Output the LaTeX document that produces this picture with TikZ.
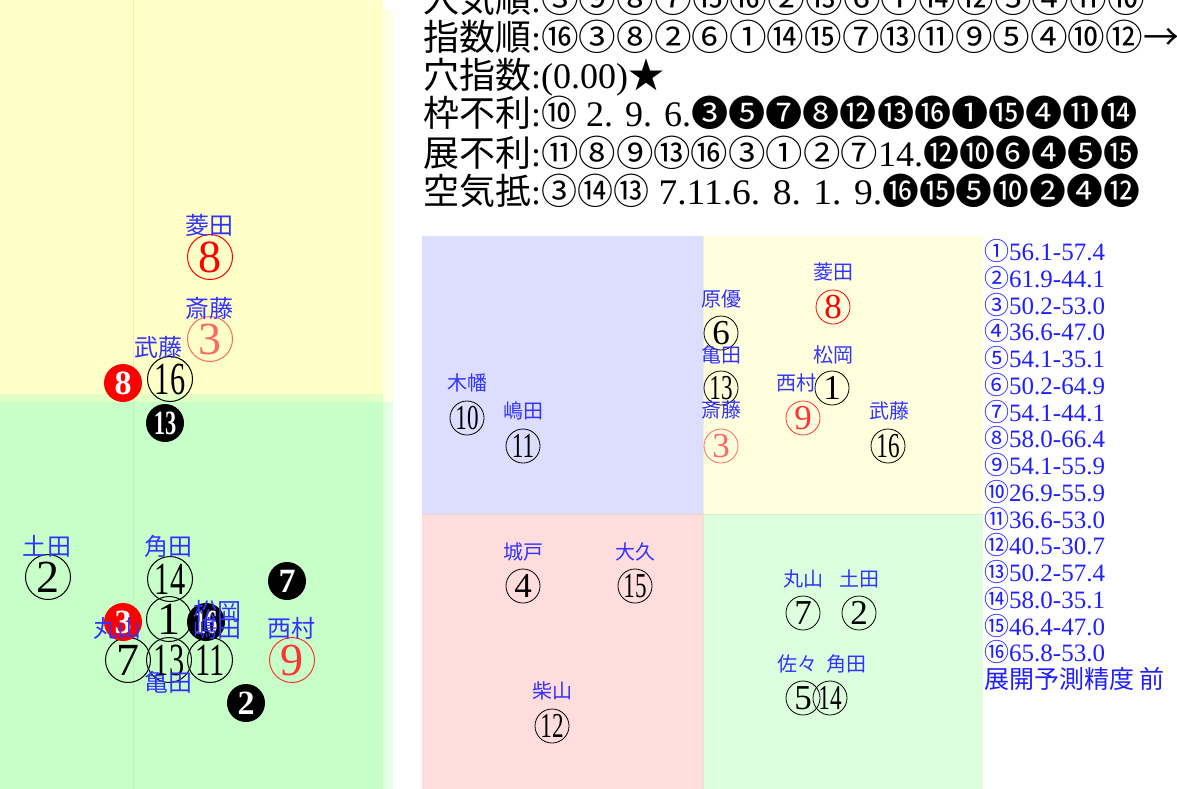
\documentclass[tikz,border=0pt]{standalone}
\usepackage{fontspec}
\setmainfont{Liberation Serif}
\newfontfamily\jp{Noto Sans CJK JP}
\usetikzlibrary{positioning}

% Farben
\definecolor{hgGelb}{HTML}{FFFFC8}
\definecolor{hgGelbGruen}{HTML}{E2FFC8}
\definecolor{hgGruen}{HTML}{C8FFC8}
\definecolor{hgGelbHell}{HTML}{FFFFE2}
\definecolor{hgGruenHell}{HTML}{E2FFE2}
\definecolor{feldBlau}{HTML}{DDDDFF}
\definecolor{feldGelb}{HTML}{FFFFDD}
\definecolor{feldRosa}{HTML}{FFDDDD}
\definecolor{feldGruen}{HTML}{DDFFDD}
\definecolor{nameBlau}{HTML}{3333FF}
\definecolor{wertBlau}{HTML}{1F1FFF}
\definecolor{lachs}{HTML}{FF6666}
\definecolor{hellrot}{HTML}{FF3333}

% zweistellige Nummern schmaler setzen
\newcommand\zahl[1]{\ifnum#1>9 \scalebox{0.66}[1]{#1}\else#1\fi}
% Textstück auf feste Breite bringen
\newcommand\passend[2]{\resizebox{#1}{\height}{#2}}

\begin{document}
\begin{tikzpicture}[x=1pt, y=-1pt,
    pferd/.style={circle, draw, line width=1pt, inner sep=0pt, minimum size=45pt, font=\fontsize{46}{46}\selectfont},
    pferdKlein/.style={pferd, line width=0.8pt, minimum size=34pt, font=\fontsize{35}{35}\selectfont},
    schwarz/.style={circle, fill=black, text=white, inner sep=0pt, minimum size=38pt, font=\fontsize{34}{34}\selectfont\bfseries},
    reiter/.style={text=nameBlau, inner sep=0pt, font=\fontsize{24}{24}\jp},
    reiterKlein/.style={reiter, font=\fontsize{20}{20}\jp},
    zeile/.style={anchor=base west, inner sep=0pt, font=\fontsize{36}{36}\selectfont},
    wert/.style={anchor=west, inner sep=0pt, text=wertBlau, font=\fontsize{25}{25}\selectfont}]

    % Bildgröße wie Vorlage (1 px = 1 pt)
    \useasboundingbox (0,0) rectangle (1177,789);

    % --- Linkes Feld (Hintergrund) ---
    \fill[hgGelb] (0,0) rectangle (383,394);
    \fill[hgGelbGruen] (0,394) rectangle (383,402);
    \fill[hgGruen] (0,402) rectangle (383,789);
    \fill[hgGelbHell] (383,10) rectangle (393,402);
    \fill[hgGruenHell] (383,402) rectangle (393,789);
    \draw[black, opacity=0.06] (133,0) -- (133,789);

    % --- Rechtes Feld (vier Bereiche) ---
    \fill[feldBlau] (422,236) rectangle (703,514);
    \fill[feldGelb] (703,236) rectangle (983,514);
    \fill[feldRosa] (422,514) rectangle (703,789);
    \fill[feldGruen] (703,514) rectangle (983,789);
    \draw[black, opacity=0.06] (422,514) -- (983,514);
    \draw[black, opacity=0.06] (703,236) -- (703,789);

    % --- Textzeilen oben ---
    \node[zeile] (beliebt) at (423,13) {{\jp 人気順}:\passend{604pt}{\jp ③⑨⑧⑦⑮⑯②⑬⑥①⑭⑫⑤④⑪⑩}};
    \node[zeile] (index) at (423,51) {{\jp 指数順}:\passend{602pt}{\jp ⑯③⑧②⑥①⑭⑮⑦⑬⑪⑨⑤④⑩⑫}{\jp →}};
    \node[zeile] (ana) at (423,89) {{\jp 穴指数}:(0.00){\jp ★}};
    \node[zeile] (waku) at (423,127) {{\jp 枠不利}:{\jp ⑩}\passend{114pt}{~2. 9. 6.}\passend{446pt}{\jp ❸❺❼❽⓬⓭⓰❶⓯❹⓫⓮}};
    \node[zeile] (tenkai) at (423,166) {{\jp 展不利}:\passend{337pt}{\jp ⑪⑧⑨⑬⑯③①②⑦}14.\passend{216pt}{\jp ⓬❿❻❹❺⓯}};
    \node[zeile] (kuuki) at (423,204) {{\jp 空気抵}:{\jp ③⑭⑬}\passend{233pt}{~7.11.6. 8. 1. 9.}\passend{258pt}{\jp ⓰⓯❺❿❷❹⓬}};

    % --- Linkes Feld: Pferde ---
    \node[pferd, draw=red, text=red] (l8) at (210,257) {8};
    \node[pferd, draw=lachs, text=lachs] (l3) at (210,339) {3};
    \node[pferd] (l16) at (170,379) {\zahl{16}};
    \node[pferd] (l2) at (48,577) {2};
    \node[pferd] (l14) at (170,579) {\zahl{14}};
    \node[pferd] (l1) at (169,619) {1};
    \node[pferd, draw=hellrot, text=hellrot] (l9) at (292,660) {9};
    \node[pferd] (l7) at (128,660) {7};
    \node[pferd] (l13) at (169,660) {\zahl{13}};
    \node[pferd] (l11) at (210,660) {\zahl{11}};

    % gefüllte Kreise
    \node[schwarz, fill=red] (s8) at (123,383) {8};
    \node[schwarz] (s13) at (165,423) {\zahl{13}};
    \node[schwarz] (s7) at (287,581) {7};
    \node[schwarz, fill=red] (s3) at (123,622) {3};
    \node[schwarz] (s16) at (206,622) {\zahl{16}};
    \node[schwarz] (s2) at (246,703) {2};

    % Namen
    \node[reiter] (n8) at (209,225) {菱田};
    \node[reiter] (n3) at (209,308) {斎藤};
    \node[reiter] (n16) at (158,347) {武藤};
    \node[reiter] (n2) at (47,546) {土田};
    \node[reiter] (n14) at (168,546) {角田};
    \node[reiter] (n1) at (217,611) {松岡};
    \node[reiter] (n7) at (117,628) {丸山};
    \node[reiter] (n11) at (217,628) {嶋田};
    \node[reiter] (n9) at (291,628) {西村};
    \node[reiter] (n13) at (168,682) {亀田};

    % --- Rechtes Feld: Pferde ---
    \node[pferdKlein, draw=red, text=red] (r8) at (833,307) {8};
    \node[pferdKlein] (r6) at (721,333) {6};
    \node[pferdKlein] (r13) at (721,388) {\zahl{13}};
    \node[pferdKlein] (r1) at (832,388) {1};
    \node[pferdKlein, draw=hellrot, text=hellrot] (r9) at (803,418) {9};
    \node[pferdKlein, draw=lachs, text=lachs] (r3) at (721,446) {3};
    \node[pferdKlein] (r16) at (888,446) {\zahl{16}};
    \node[pferdKlein] (r10) at (467,418) {\zahl{10}};
    \node[pferdKlein] (r11) at (523,446) {\zahl{11}};
    \node[pferdKlein] (r4) at (523,586) {4};
    \node[pferdKlein] (r15) at (635,586) {\zahl{15}};
    \node[pferdKlein] (r7) at (803,613) {7};
    \node[pferdKlein] (r2) at (859,613) {2};
    \node[pferdKlein] (r5) at (803,698) {5};
    \node[pferdKlein] (r14) at (830,698) {\zahl{14}};
    \node[pferdKlein] (r12) at (552,726) {\zahl{12}};

    % Namen
    \node[reiterKlein] (m8) at (833,272) {菱田};
    \node[reiterKlein] (m6) at (721,299) {原優};
    \node[reiterKlein] (m13) at (721,355) {亀田};
    \node[reiterKlein] (m1) at (833,355) {松岡};
    \node[reiterKlein] (m9) at (796,383) {西村};
    \node[reiterKlein] (m3) at (721,410) {斎藤};
    \node[reiterKlein] (m16) at (889,411) {武藤};
    \node[reiterKlein] (m10) at (467,383) {木幡};
    \node[reiterKlein] (m11) at (523,411) {嶋田};
    \node[reiterKlein] (m4) at (523,552) {城戸};
    \node[reiterKlein] (m15) at (635,552) {大久};
    \node[reiterKlein] (m7) at (803,579) {丸山};
    \node[reiterKlein] (m2) at (859,579) {土田};
    \node[reiterKlein] (m5) at (797,664) {佐々};
    \node[reiterKlein] (m14) at (846,664) {角田};
    \node[reiterKlein] (m12) at (552,691) {柴山};

    % --- Werteliste rechts ---
    \foreach \w [count=\i] in {56.1-57.4, 61.9-44.1, 50.2-53.0, 36.6-47.0, 54.1-35.1,
        50.2-64.9, 54.1-44.1, 58.0-66.4, 54.1-55.9, 26.9-55.9, 36.6-53.0,
        40.5-30.7, 50.2-57.4, 58.0-35.1, 46.4-47.0, 65.8-53.0}
      \node[wert] (w\i) at (984, {251+26.75*(\i-1)}) {{\jp\char\numexpr"245F+\i\relax}\w};
    \node[wert] (genau) at (984,679) {\jp 展開予測精度 前};

\end{tikzpicture}
\end{document}
